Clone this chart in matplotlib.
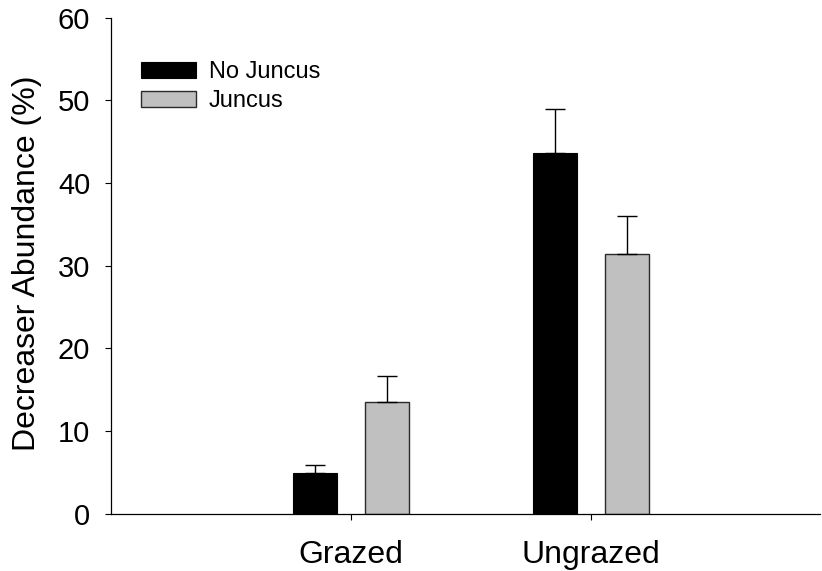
import numpy as np
import matplotlib.pyplot as plt

plt.rcParams['font.family'] = ['Liberation Sans', 'DejaVu Sans']

categories = ['Grazed', 'Ungrazed']
no_juncus = [4.95, 43.6]
no_juncus_err = [0.9, 5.3]
juncus = [13.5, 31.4]
juncus_err = [3.1, 4.6]

fig = plt.figure(figsize=(8.22, 5.71), dpi=100)
ax = fig.add_axes([0.135, 0.1004, 0.863, 0.8686])

x = np.arange(len(categories))
w = 0.185
off = 0.15

ekw = dict(elinewidth=1.0, capthick=1.0, ecolor='black')
ax.bar(x - off, no_juncus, w, color='black', edgecolor='black', linewidth=0.8,
       yerr=[np.zeros(2), no_juncus_err], capsize=7, error_kw=ekw, label='No Juncus')
ax.bar(x + off, juncus, w, color='#c0c0c0', edgecolor='#2a2a2a', linewidth=1.0,
       yerr=[np.zeros(2), juncus_err], capsize=7, error_kw=ekw, label='Juncus')

ax.set_xlim(-1.0, 1.954)
ax.set_ylim(0, 60)
ax.set_yticks(range(0, 61, 10))
ax.set_xticks(x)
ax.set_xticklabels(categories, fontsize=23)
ax.tick_params(axis='y', labelsize=21, length=4.5, width=0.8, pad=10.5, direction='out')
ax.tick_params(axis='x', length=4, width=0.8, pad=15, direction='out')

for s in ['top', 'right']:
    ax.spines[s].set_visible(False)
for s in ['left', 'bottom']:
    ax.spines[s].set_linewidth(0.9)

ax.set_ylabel('Decreaser Abundance (%)', fontsize=23)
ax.yaxis.set_label_coords(-0.097, 0.505)

ax.legend(loc='upper left', bbox_to_anchor=(0.042, 0.912), frameon=False,
          fontsize=17, handlelength=2.33, handleheight=0.64, handletextpad=0.55,
          labelspacing=0.3, borderpad=0, borderaxespad=0)

fig.savefig('out.png', dpi=100)
